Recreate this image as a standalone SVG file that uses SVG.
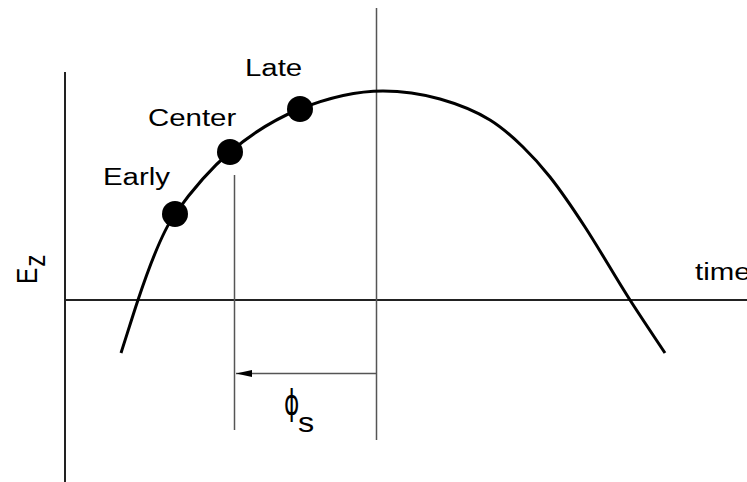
<svg xmlns="http://www.w3.org/2000/svg" width="747" height="482" viewBox="0 0 747 482">
<defs>
<style>
.lbl{font-family:"Liberation Sans",Arial,sans-serif;font-size:24.5px;fill:#000}
.axis{stroke:#222;stroke-width:2;fill:none}
.thin{stroke:#555;stroke-width:1.5;fill:none}
.curve{stroke:#000;stroke-width:3;fill:none;stroke-linecap:butt}
.dot{fill:#000}
</style>
<marker id="ah" viewBox="0 0 16 8" refX="16" refY="4" markerWidth="16" markerHeight="8" markerUnits="userSpaceOnUse" orient="auto">
<path d="M16,4 L0,0.5 L0,7.5 Z" fill="#000"/>
</marker>
</defs>
<rect width="747" height="482" fill="#fff"/>
<g id="connectors">
<line class="axis" x1="65" y1="72" x2="65" y2="482"/>
<line class="axis" x1="65" y1="300" x2="747" y2="300"/>
<line class="thin" x1="376.5" y1="8" x2="376.5" y2="440"/>
<line class="thin" x1="234.5" y1="175" x2="234.5" y2="430"/>
<line class="thin" x1="376.5" y1="373.5" x2="236" y2="373.5" marker-end="url(#ah)"/>
<path class="curve" d="M121,353 C126.67,335.4 132.33,317 138,300 C150.33,263 162.67,231.3 175,214 C193.33,188.3 211.67,167.6 230,152 C253.33,132.2 276.67,118.3 300,109 C327.67,97.9 355.33,91 383,91 C402,91 421,93.7 440,99 C456.67,103.7 473.33,109.7 490,120 C501,126.8 512,136.3 523,147 C532,155.7 541,165.6 550,177 C561.67,191.8 573.33,209.1 585,227 C600,250 615,276.6 630,300 C641.67,318.2 653.33,335.4 665,353"/>
</g>
<g id="early">
<circle class="dot" cx="175" cy="214" r="13"/>
<text class="lbl" transform="translate(103,185) scale(1.2,1)">Early</text>
</g>
<g id="center">
<circle class="dot" cx="230" cy="152" r="13"/>
<text class="lbl" transform="translate(148,126) scale(1.2,1)">Center</text>
</g>
<g id="late">
<circle class="dot" cx="300" cy="109" r="13"/>
<text class="lbl" transform="translate(245,76) scale(1.2,1)">Late</text>
</g>
<g id="ez-label">
<text class="lbl" transform="translate(37,284) scale(1.2,1) rotate(-90)">E<tspan dx="1" dy="6.7">z</tspan></text>
</g>
<g id="time-label">
<text class="lbl" transform="translate(695,280) scale(1.2,1)">time</text>
</g>
<g id="phi-label">
<text transform="translate(284,415) scale(0.75,1.15)" style="font-family:'DejaVu Sans',sans-serif;font-size:31px;fill:#000">ϕ</text>
<text class="lbl" transform="translate(298,432) scale(1.2,1)" style="font-size:27px">s</text>
</g>
</svg>
